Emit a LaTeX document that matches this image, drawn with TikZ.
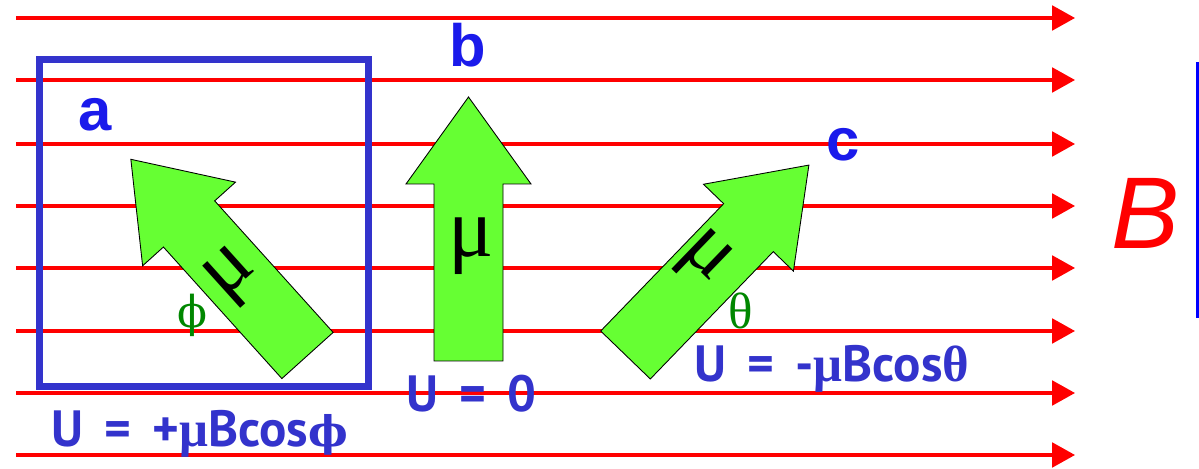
\documentclass[tikz,border=0pt]{standalone}
\usepackage{fontspec}
\setmainfont{Liberation Sans}
\newfontfamily\lblfont{PT Sans}
\newfontfamily\grk{Liberation Serif}
\newfontfamily\dvs{DejaVu Serif}
\usetikzlibrary{arrows.meta}
\definecolor{fieldred}{RGB}{255,0,0}
\definecolor{boxblue}{RGB}{51,51,204}
\definecolor{letterblue}{RGB}{26,26,235}
\definecolor{arrowgreen}{RGB}{102,255,51}
\definecolor{anglegreen}{RGB}{0,135,0}
\definecolor{barblue}{RGB}{0,0,255}
\tikzset{
  fieldline/.style={draw=fieldred, line width=1.8pt, -{Triangle[length=13pt,width=14pt]}},
  greenarrow/.style={fill=arrowgreen, draw=black, line width=0.5pt, line join=miter},
  magarrow/.pic={\draw[greenarrow] (0,-34.5) -- (177,-34.5) -- (177,-62.5) -- (264,0)
      -- (177,62.5) -- (177,34.5) -- (0,34.5) -- cycle;},
  mulabel/.style={font=\grk\fontsize{48}{48}\selectfont, inner sep=0pt},
  letterlabel/.style={font=\bfseries\fontsize{34}{34}\selectfont, text=letterblue, inner sep=0pt},
  ulabel/.style={font=\lblfont\bfseries\fontsize{29}{29}\selectfont, text=boxblue, inner sep=0pt, anchor=base west},
  anglelabel/.style={text=anglegreen, inner sep=0pt}
}
\begin{document}
\begin{tikzpicture}[x=0.02cm,y=0.02cm]
\fill[white] (0,0) rectangle (1199,469);
\useasboundingbox (0,0) rectangle (1199,469);
% field lines
\foreach \Y in {451,389,325,263,201,138,76,14}
  \draw[fieldline] (16,\Y) -- (1075,\Y);
% box around a
\draw[boxblue, line width=4pt] (39.5,82.5) rectangle (368.5,409.5);
% green arrows
\pic[rotate=132] at (307.5,113.5) {magarrow};
\pic[rotate=90] at (468.5,108) {magarrow};
\pic[rotate=46] at (625.5,114) {magarrow};
% mu labels inside arrows
\node[mulabel, rotate=42] (mua) at (233,192) {μ};
\node[mulabel] (mub) at (471,223) {μ};
\node[mulabel, rotate=-44] (muc) at (703,209) {μ};
% letters
\node[letterlabel] (la) at (95,354) {a};
\node[letterlabel] (lb) at (468,423.5) {b};
\node[letterlabel] (lc) at (843,324) {c};
% angles
\node[anglelabel, font=\dvs\fontsize{25}{25}\selectfont] (phi) at (192,154) {ϕ};
\node[anglelabel, font=\grk\fontsize{29}{29}\selectfont] (theta) at (741,158) {θ};
% energies
\node[ulabel] (ua) at (51,22) {U\hspace{12pt}=\hspace{12pt}+{\grk μ}Bcos{\dvs\fontsize{24}{24}\selectfont ϕ}};
\node[ulabel] (ub) at (406,57) {U\hspace{12pt}=\hspace{12pt}0};
\node[ulabel] (uc) at (694,87) {U\hspace{12pt}=\hspace{12pt}-{\grk μ}Bcos{\grk θ}};
% field label
\node[font=\itshape\fontsize{58}{58}\selectfont, text=fieldred, inner sep=0pt] (B) at (1145,255.5) {B};
\draw[barblue, line width=1.7pt] (1197,407) -- (1197,151);
\end{tikzpicture}
\end{document}
